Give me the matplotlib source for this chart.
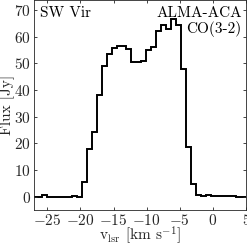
import numpy as np
import matplotlib
matplotlib.use("Agg")
import matplotlib.pyplot as plt

# channel grid (km/s) and flux per channel (Jy)
chan_width = 0.75
v_start = -27.3
flux = [0.0, 0.0, 0.5, 0.0, 0.0, -0.05, -0.1, 0.0, 0.3, 0.0,
        5.6, 17.7, 24.3, 37.9, 49.0, 53.5, 55.6, 56.3, 56.4, 55.2,
        50.5, 50.6, 50.9, 55.1, 56.2, 62.2, 64.2, 63.0, 66.6, 64.3,
        47.9, 18.7, 4.6, 0.5, 0.4, 0.5, 0.2, 0.1, 0.3, 0.1,
        0.1, 0.0, -0.1]
v_edges = v_start + chan_width * np.arange(len(flux) + 1)

xticks = [-25, -20, -15, -10, -5, 0, 5]
yticks = [0, 10, 20, 30, 40, 50, 60, 70]

plt.rcParams['font.family'] = 'serif'
plt.rcParams['font.serif'] = ['cmr10']
plt.rcParams['mathtext.fontset'] = 'cm'
plt.rcParams['axes.unicode_minus'] = False
plt.rcParams['axes.formatter.use_mathtext'] = True

fs = 11
grey = '#262626'
fig = plt.figure(figsize=(2.47, 2.45), dpi=100)
ax = fig.add_axes([0.138, 0.143, 0.858, 0.855])

ax.stairs(flux, v_edges, baseline=None, color='black', linewidth=1.4)

ax.set_xlim(-27, 5)
ax.set_ylim(-5, 73.5)
ax.set_xticks(xticks)
ax.set_yticks(yticks)
ax.tick_params(direction='in', top=True, right=True, length=2.5, width=0.6,
               labelsize=fs, colors=grey, pad=2.5)
for s in ax.spines.values():
    s.set_color(grey)
    s.set_linewidth(0.6)

ax.set_xlabel(r'v$_{\rm lsr}$ [km s$^{-1}$]', fontsize=fs, color=grey, va='center')
ax.xaxis.set_label_coords(0.5, -0.12)
ax.set_ylabel('Flux [Jy]', fontsize=fs, color=grey, va='center')
ax.yaxis.set_label_coords(-0.125, 0.5)

ax.text(0.03, 0.97, 'SW Vir', transform=ax.transAxes, ha='left', va='top',
        fontsize=fs, color='black')
ax.text(0.98, 0.97, 'ALMA-ACA', transform=ax.transAxes, ha='right', va='top',
        fontsize=fs, color='black')
ax.text(0.98, 0.90, 'CO(3-2)', transform=ax.transAxes, ha='right', va='top',
        fontsize=fs, color='black')

fig.savefig('out.png', dpi=100)
